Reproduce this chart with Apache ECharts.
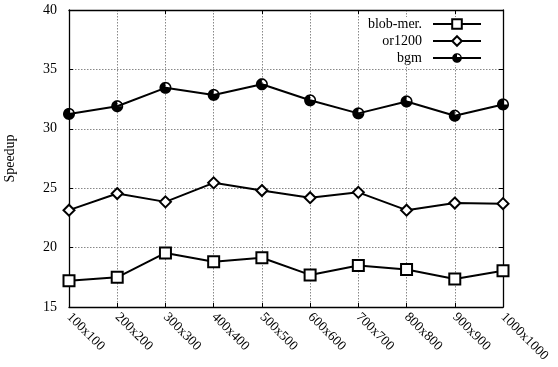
<!DOCTYPE html>
<html>
<head>
<meta charset="utf-8">
<script src="https://cdn.jsdelivr.net/npm/echarts@6/dist/echarts.min.js"></script>
<style>
html,body{margin:0;padding:0;background:#fff;}
#chart{width:558px;height:367px;}
</style>
</head>
<body>
<div id="chart"></div>
<script>
const categories = ['100x100','200x200','300x300','400x400','500x500','600x600','700x700','800x800','900x900','1000x1000'];
const blobMer = [17.2, 17.5, 19.55, 18.8, 19.15, 17.7, 18.5, 18.15, 17.35, 18.05];
const or1200 = [23.15, 24.55, 23.85, 25.45, 24.8, 24.2, 24.65, 23.15, 23.75, 23.7];
const bgm = [31.25, 31.9, 33.45, 32.85, 33.75, 32.4, 31.3, 32.3, 31.1, 32.05];
const yTicks = [15, 20, 25, 30, 35, 40];

const FONT = 'Liberation Serif';

// half-open circle marker shape (outer disc clockwise, upper-right quadrant hole counter-clockwise)
function buildBgmSymbol() {
  let d = '';
  for (let a = 0; a <= 360; a += 10) {
    const r = a * Math.PI / 180;
    d += (a === 0 ? 'M' : 'L') + (10 * Math.cos(r)).toFixed(3) + ' ' + (10 * Math.sin(r)).toFixed(3);
  }
  d += 'Z M0 0';
  for (let a = 0; a <= 90; a += 10) {
    const r = a * Math.PI / 180;
    d += 'L' + (7.4 * Math.cos(r)).toFixed(3) + ' ' + (-7.4 * Math.sin(r)).toFixed(3);
  }
  d += 'Z';
  return 'path://' + d;
}
const bgmSymbol = buildBgmSymbol();

const chart = echarts.init(document.getElementById('chart'));
const mkSeries = (name, data, symbol, size, isPath) => ({
  name, type: 'line', data, xAxisIndex: 0, yAxisIndex: 0,
  symbol, symbolSize: size, showAllSymbol: true,
  lineStyle: {color: '#000', width: 2},
  itemStyle: isPath ? {color: '#000', borderWidth: 0} : {color: '#fff', borderColor: '#000', borderWidth: 2},
  emphasis: {disabled: true}, animation: false, z: 3
});

chart.setOption({
  animation: false,
  backgroundColor: '#fff',
  grid: {left: 69, right: 55, top: 10, bottom: 60, containLabel: false, outerBoundsMode: 'none'},
  legend: {
    orient: 'vertical', right: 76, top: 17, align: 'right', padding: 0,
    itemWidth: 48, itemHeight: 12, itemGap: 3,
    textStyle: {fontFamily: FONT, fontSize: 14, color: '#000', padding: [0, 6, 0, 0]},
    backgroundColor: '#fff',
    data: ['blob-mer.', 'or1200', 'bgm']
  },
  xAxis: [{
    type: 'category', data: categories, boundaryGap: false, position: 'bottom',
    axisLine: {lineStyle: {color: '#000', width: 1.3}},
    axisTick: {inside: true, length: 4, lineStyle: {color: '#000'}},
    axisLabel: {rotate: -45, margin: 8, fontFamily: FONT, fontSize: 13.5, color: '#000'},
    splitLine: {show: true, lineStyle: {type: [1.5, 1.5], color: '#888', width: 1}}
  }, {
    type: 'category', data: categories, boundaryGap: false, position: 'top',
    axisLine: {lineStyle: {color: '#000', width: 1.3}},
    axisTick: {inside: true, length: 4, lineStyle: {color: '#000'}},
    axisLabel: {show: false}, splitLine: {show: false}
  }],
  yAxis: [{
    type: 'value', min: yTicks[0], max: yTicks[yTicks.length - 1], interval: 5,
    name: 'Speedup', nameLocation: 'middle', nameGap: 52,
    nameTextStyle: {fontFamily: FONT, fontSize: 14, color: '#000'},
    axisLine: {show: true, lineStyle: {color: '#000', width: 1.3}},
    axisTick: {show: true, inside: true, length: 4, lineStyle: {color: '#000'}},
    axisLabel: {margin: 12, fontFamily: FONT, fontSize: 14, color: '#000'},
    splitLine: {show: true, lineStyle: {type: [1.5, 1.5], color: '#888', width: 1}}
  }, {
    type: 'value', min: yTicks[0], max: yTicks[yTicks.length - 1], interval: 5, position: 'right',
    axisLine: {show: true, lineStyle: {color: '#000', width: 1.3}},
    axisTick: {show: true, inside: true, length: 4, lineStyle: {color: '#000'}},
    axisLabel: {show: false}, splitLine: {show: false}
  }],
  series: [
    mkSeries('blob-mer.', blobMer, 'rect', 11, false),
    mkSeries('or1200', or1200, 'diamond', [11, 11], false),
    mkSeries('bgm', bgm, bgmSymbol, 12, true)
  ]
});
</script>
</body>
</html>
